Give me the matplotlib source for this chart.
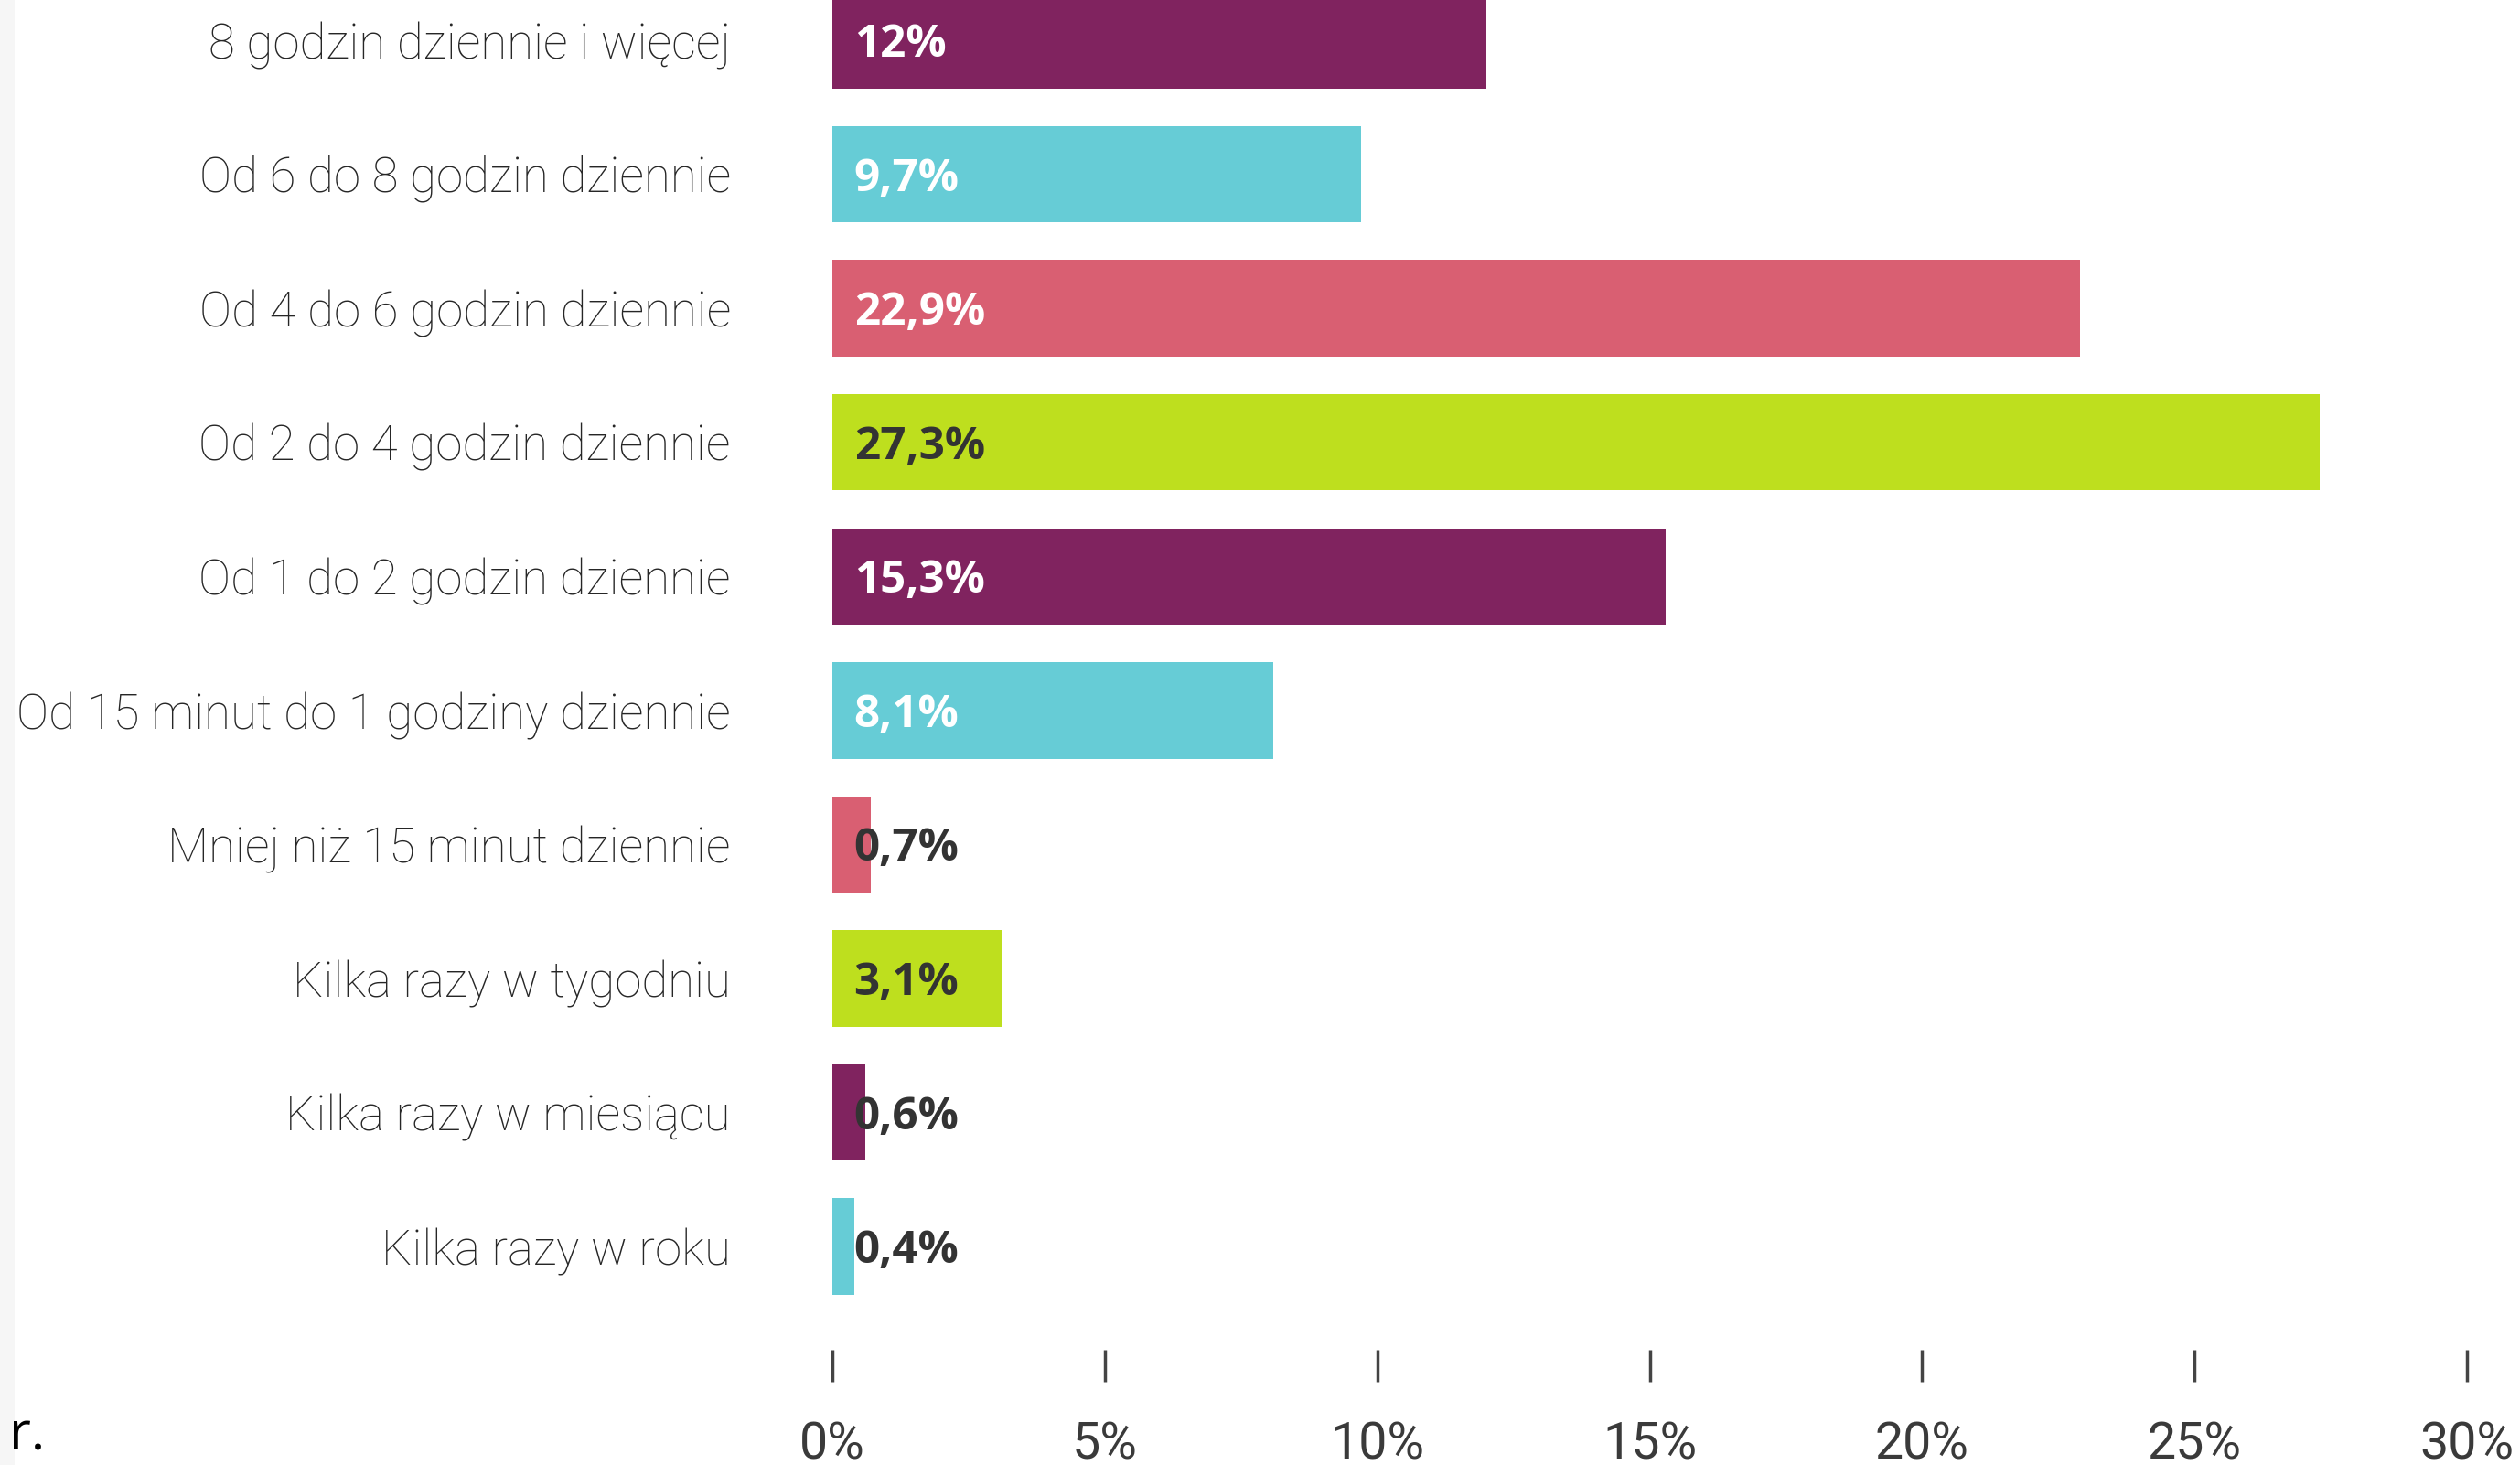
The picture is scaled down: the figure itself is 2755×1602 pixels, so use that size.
import matplotlib
matplotlib.use("Agg")
import matplotlib.pyplot as plt
from matplotlib.patches import Rectangle

categories = [
    "8 godzin dziennie i więcej",
    "Od 6 do 8 godzin dziennie",
    "Od 4 do 6 godzin dziennie",
    "Od 2 do 4 godzin dziennie",
    "Od 1 do 2 godzin dziennie",
    "Od 15 minut do 1 godziny dziennie",
    "Mniej niż 15 minut dziennie",
    "Kilka razy w tygodniu",
    "Kilka razy w miesiącu",
    "Kilka razy w roku",
]
values = [12.0, 9.7, 22.9, 27.3, 15.3, 8.1, 0.7, 3.1, 0.6, 0.4]
value_labels = ["12%", "9,7%", "22,9%", "27,3%", "15,3%", "8,1%", "0,7%", "3,1%", "0,6%", "0,4%"]
xticks = [0, 5, 10, 15, 20, 25, 30]
xtick_labels = ["0%", "5%", "10%", "15%", "20%", "25%", "30%"]

PURPLE = "#80235F"
CYAN = "#66CCD6"
PINK = "#D95F72"
LIME = "#BEDF1E"
colors = [PURPLE, CYAN, PINK, LIME, PURPLE, CYAN, PINK, LIME, PURPLE, CYAN]
label_colors = ["white", "white", "white", "#333333", "white", "white",
                "#333333", "#333333", "#333333", "#333333"]

W, H = 2755, 1602
fig = plt.figure(figsize=(W / 100, H / 100), dpi=100)
fig.patch.set_facecolor("white")
fig.patches.append(Rectangle((0, 0), 16 / W, 1, transform=fig.transFigure,
                             facecolor="#f6f6f6", edgecolor="none", zorder=0))

left = 910 / W
right = 2697 / W
bottom = 126 / H
ax = fig.add_axes([left, bottom, right - left, 1 - bottom])
ax.set_facecolor("none")

y = list(range(len(values)))
ax.barh(y, values, height=0.72, color=colors, zorder=2)
ax.set_xlim(0, 30)
ax.set_ylim(9.77, -0.30)

for yi, v, lab, c in zip(y, values, value_labels, label_colors):
    ax.annotate(lab, xy=(0, yi), xytext=(17, -4), textcoords="offset points",
                ha="left", va="center", fontsize=35.5, fontweight="bold",
                family="Open Sans", color=c, zorder=3)

ax.set_yticks(y)
ax.set_yticklabels(categories, fontsize=38, family="Roboto", fontweight="light",
                   color="#262626")
ax.tick_params(axis="y", length=0, pad=80)

ax.set_xticks(xticks)
ax.set_xticklabels(xtick_labels, fontsize=40, family="Roboto", fontweight="normal",
                   color="#3a3a3a")
ax.tick_params(axis="x", direction="out", length=25, width=2.5, color="#444444", pad=31)

for s in ax.spines.values():
    s.set_visible(False)

fig.text(10 / W, (H - 1570) / H, "r.", fontsize=42, family="Open Sans",
         color="black", ha="left", va="center")

fig.savefig("out.png", dpi=100)
